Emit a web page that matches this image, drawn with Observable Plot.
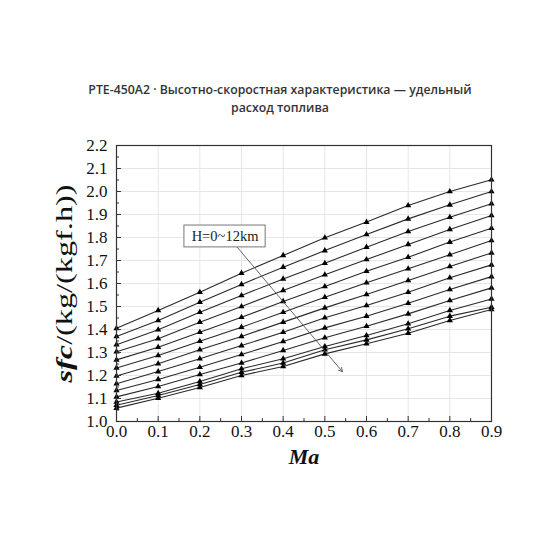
<!DOCTYPE html>
<html><head><meta charset="utf-8">
<script src="https://cdn.jsdelivr.net/npm/d3@7"></script>
<script src="https://cdn.jsdelivr.net/npm/@observablehq/plot@0.6"></script>
<style>
body{margin:0;background:#fff;}
#title{padding-top:81px;font:600 12.3px/18px "Open Sans",sans-serif;color:#333;text-align:center;}
#chart svg{display:block;}
</style></head><body>
<div id="title">PTE-450A2 · Высотно-скоростная характеристика — удельный<br>расход топлива</div>
<div id="chart"></div>
<script>
// Mach numbers
const ma = [0.0, 0.1, 0.2, 0.3, 0.4, 0.5, 0.6, 0.7, 0.8, 0.9];
// Altitudes, km
const altitudesKm = [0, 1, 2, 3, 4, 5, 6, 7, 8, 9, 10, 11, 12];
// sfc, kg/(kgf.h), one array per altitude
const sfcH0  = [1.405, 1.483, 1.562, 1.645, 1.722, 1.799, 1.867, 1.939, 2.000, 2.051];
const sfcH1  = [1.370, 1.439, 1.519, 1.596, 1.671, 1.743, 1.813, 1.881, 1.942, 2.000];
const sfcH2  = [1.334, 1.399, 1.475, 1.548, 1.620, 1.688, 1.758, 1.826, 1.888, 1.947];
const sfcH3  = [1.303, 1.360, 1.432, 1.500, 1.570, 1.638, 1.704, 1.770, 1.835, 1.896];
const sfcH4  = [1.268, 1.323, 1.388, 1.453, 1.522, 1.587, 1.653, 1.714, 1.780, 1.840];
const sfcH5  = [1.233, 1.287, 1.349, 1.410, 1.475, 1.540, 1.603, 1.664, 1.725, 1.787];
const sfcH6  = [1.198, 1.251, 1.312, 1.370, 1.432, 1.494, 1.552, 1.613, 1.674, 1.733];
const sfcH7  = [1.164, 1.217, 1.273, 1.330, 1.388, 1.451, 1.504, 1.562, 1.625, 1.681];
const sfcH8  = [1.135, 1.183, 1.236, 1.291, 1.348, 1.407, 1.458, 1.514, 1.574, 1.630];
const sfcH9  = [1.107, 1.152, 1.204, 1.254, 1.309, 1.364, 1.414, 1.468, 1.526, 1.581];
const sfcH10 = [1.085, 1.123, 1.174, 1.229, 1.273, 1.326, 1.374, 1.425, 1.483, 1.533];
const sfcH11 = [1.071, 1.113, 1.161, 1.214, 1.254, 1.312, 1.355, 1.403, 1.458, 1.497];
const sfcH12 = [1.058, 1.101, 1.148, 1.200, 1.239, 1.294, 1.338, 1.384, 1.439, 1.487];
const sfcByAltitude = [sfcH0, sfcH1, sfcH2, sfcH3, sfcH4, sfcH5, sfcH6, sfcH7, sfcH8, sfcH9, sfcH10, sfcH11, sfcH12];

// Tick values
const xTicks = [0.0, 0.1, 0.2, 0.3, 0.4, 0.5, 0.6, 0.7, 0.8, 0.9];
const xMinor = [0.05, 0.15, 0.25, 0.35, 0.45, 0.55, 0.65, 0.75, 0.85];
const yTicks = [1.0, 1.1, 1.2, 1.3, 1.4, 1.5, 1.6, 1.7, 1.8, 1.9, 2.0, 2.1, 2.2];
const yMinor = [1.05, 1.15, 1.25, 1.35, 1.45, 1.55, 1.65, 1.75, 1.85, 1.95, 2.05, 2.15];

// Texts
const xLabel = "Ma";
const yLabel = "sfc/(kg/(kgf.h))";
const annotationText = "H=0~12km";

// Annotation placement (data units)
const annotationBox = [{x1: 0.163, x2: 0.358, y1: 1.757, y2: 1.852}];
const annotationLabelPos = [{x: 0.2605, y: 1.8045, text: annotationText}];
const annotationArrow = [{x1: 0.29, y1: 1.757, x2: 0.542, y2: 1.217}];

const rows = altitudesKm.flatMap((h, i) => ma.map((m, j) => ({H: h, Ma: m, sfc: sfcByAltitude[i][j]})));

const W = 560, H = 392, mL = 116, mR = 69, mT = 28, mB = 88;
const innerW = W - mL - mR, innerH = H - mT - mB;
const serif = "'Liberation Serif', 'Times New Roman', serif";

const chart = Plot.plot({
  width: W, height: H,
  marginLeft: mL, marginRight: mR, marginTop: mT, marginBottom: mB,
  x: {domain: [0, 0.9]},
  y: {domain: [1.0, 2.2]},
  style: {fontFamily: serif, color: "#111", background: "white"},
  marks: [
    Plot.gridX({ticks: xTicks, stroke: "#e6e6e6", strokeOpacity: 1}),
    Plot.gridY({ticks: yTicks, stroke: "#e6e6e6", strokeOpacity: 1}),
    Plot.line(rows, {x: "Ma", y: "sfc", z: "H", stroke: "#2a2a2a", strokeWidth: 1.1}),
    Plot.dot(rows, {x: "Ma", y: "sfc", symbol: "triangle", r: 2.3, fill: "#000", stroke: "none"}),
    Plot.frame({stroke: "#333", strokeWidth: 1.2}),
    Plot.tickX(xTicks, {x: d => d, insetTop: innerH - 5, stroke: "#333"}),
    Plot.tickX(xMinor, {x: d => d, insetTop: innerH - 3, stroke: "#333"}),
    Plot.tickY(yTicks, {y: d => d, insetRight: innerW - 5, stroke: "#333"}),
    Plot.tickY(yMinor, {y: d => d, insetRight: innerW - 3, stroke: "#333"}),
    Plot.axisX({ticks: xTicks, tickSize: 0, tickPadding: 3, tickFormat: d => d.toFixed(1), fontSize: 17, label: null}),
    Plot.axisY({ticks: yTicks, tickSize: 0, tickPadding: 9, tickFormat: d => d.toFixed(1), fontSize: 17, label: null}),
    Plot.rect(annotationBox, {x1: "x1", x2: "x2", y1: "y1", y2: "y2", fill: "white", stroke: "#777", strokeWidth: 1}),
    Plot.text(annotationLabelPos, {x: "x", y: "y", text: "text", fontSize: 14.5, fill: "#222"}),
    Plot.arrow(annotationArrow, {x1: "x1", y1: "y1", x2: "x2", y2: "y2", stroke: "#555", strokeWidth: 0.9, headLength: 7}),
    Plot.text([yLabel], {text: d => d, frameAnchor: "left", textAnchor: "middle", lineAnchor: "middle", rotate: -90, dx: -52, fontSize: 24, fill: "#111"}),
    Plot.text([xLabel], {text: d => d, frameAnchor: "bottom", lineAnchor: "middle", dy: 35, fontSize: 22, fontWeight: "bold", fontStyle: "italic", fill: "#111"})
  ]
});

// Style the y label: "sfc" bold italic, rest regular; stretch to the reference length
d3.select(chart).selectAll("text").filter(function() { return this.textContent === yLabel; })
  .each(function() {
    const t = d3.select(this);
    t.text(null);
    t.attr("textLength", 198).attr("lengthAdjust", "spacingAndGlyphs");
    t.append("tspan").attr("font-weight", "bold").attr("font-style", "italic").text("sfc");
    t.append("tspan").text("/(kg/(kgf.h))");
  });

document.getElementById("chart").appendChild(chart);
</script>
</body></html>
